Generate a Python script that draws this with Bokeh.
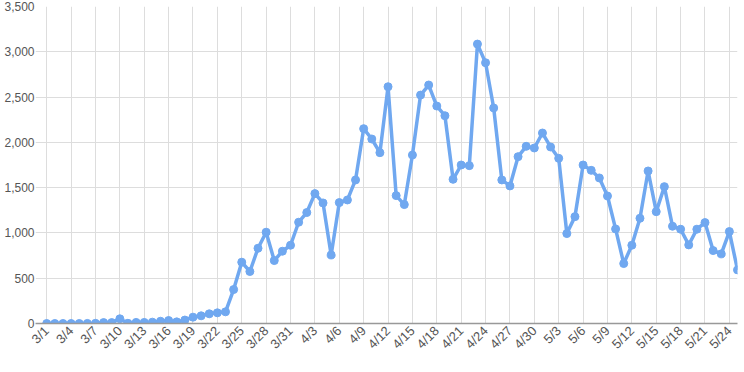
import math
from bokeh.plotting import figure
from bokeh.models import FixedTicker, Range1d
from bokeh.embed import file_html
from bokeh.resources import INLINE

values = [0, 0, 0, 0, 0, 1, 2, 10, 10, 52,
          2, 12, 12, 15, 25, 33, 18, 38, 70, 85,
          107, 118, 129, 375, 677, 574, 831, 1008, 695, 798,
          864, 1118, 1225, 1434, 1331, 757, 1335, 1364, 1585, 2151,
          2037, 1886, 2614, 1412, 1313, 1860, 2522, 2633, 2401, 2294,
          1592, 1750, 1743, 3085, 2879, 2380, 1585, 1519, 1842, 1956,
          1938, 2103, 1949, 1824, 993, 1180, 1750, 1691, 1607, 1408,
          1044, 662, 864, 1162, 1684, 1235, 1511, 1074, 1041, 868,
          1041, 1114, 805, 769, 1015, 592]

def make_dates():
    out = []
    for m, ndays in ((3, 31), (4, 30), (5, 31)):
        for d in range(1, ndays + 1):
            out.append(f"{m}/{d}")
    return out

dates = make_dates()[:len(values)]
x = list(range(len(values)))
tick_idx = list(range(0, len(values), 3))
y_ticks = [0, 500, 1000, 1500, 2000, 2500, 3000, 3500]

p = figure(width=744, height=372, output_backend="svg", toolbar_location=None,
           x_range=Range1d(-1.38, len(values) - 1), y_range=Range1d(0, 3500),
           min_border_left=35, min_border_right=7, min_border_top=6, min_border_bottom=49)
p.outline_line_color = None
p.background_fill_color = "white"

p.line(x, values, line_color="#70a8f0", line_width=3.5)
p.scatter(x, values, size=8, fill_color="#70a8f0", line_color="#70a8f0")

p.xaxis.ticker = FixedTicker(ticks=tick_idx)
p.xaxis.major_label_overrides = {i: dates[i] for i in tick_idx}
p.xaxis.major_label_orientation = math.pi / 4
p.xaxis.axis_line_color = "#999999"
p.xaxis.axis_line_width = 1.5
p.xaxis.major_tick_line_color = None
p.xaxis.minor_tick_line_color = None
p.xaxis.major_tick_out = 0
p.xaxis.major_tick_in = 0
p.xaxis.minor_tick_out = 0
p.xaxis.major_label_standoff = 5
p.xaxis.major_label_text_font_size = "13px"

p.yaxis.ticker = FixedTicker(ticks=y_ticks)
p.yaxis.major_label_overrides = {v: f"{v:,}" for v in y_ticks}
p.yaxis.axis_line_color = None
p.yaxis.major_tick_line_color = None
p.yaxis.minor_tick_line_color = None
p.yaxis.major_tick_out = 0
p.yaxis.major_tick_in = 0
p.yaxis.minor_tick_out = 0
p.yaxis.major_label_standoff = 1
p.yaxis.major_label_text_font_size = "12px"

for ax in (p.xaxis, p.yaxis):
    ax.major_label_text_font = "Liberation Sans"
    ax.major_label_text_color = "#555555"

p.xgrid.ticker = FixedTicker(ticks=tick_idx)
p.xgrid.grid_line_color = "#dddddd"
p.ygrid.grid_line_color = "#dddddd"

open("out.html", "w").write(file_html(p, INLINE))
